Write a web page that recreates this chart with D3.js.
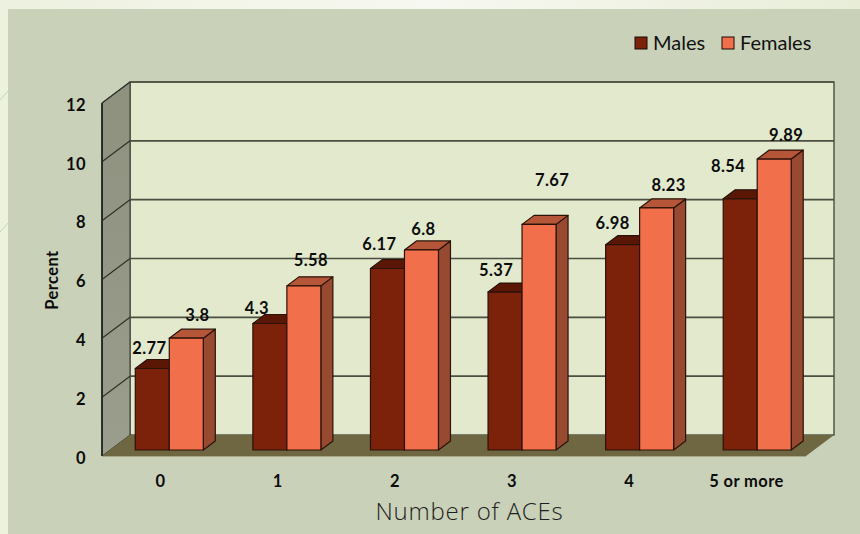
<!DOCTYPE html>
<html>

<head>
	<meta charset="utf-8">
	<title>ACEs</title>
	<script src="https://d3js.org/d3.v7.min.js"></script>
	<style>
		body {
			overflow: hidden;
			margin: 0;
			padding: 0;
			background: #eef1e0;
		}

		svg {
			display: block;
			font-family: Lato, sans-serif;
		}

		.tick text,
		.lab {
			font-size: 16.5px;
			font-weight: 700;
			letter-spacing: 0.4px;
			fill: #0c0c0c;
		}
	</style>
</head>

<body>
	<script>
		var categories = ["0", "1", "2", "3", "4", "5 or more"];
		var males = [2.77, 4.3, 6.17, 5.37, 6.98, 8.54];
		var females = [3.8, 5.58, 6.8, 7.67, 8.23, 9.89];
		var yTicks = [0, 2, 4, 6, 8, 10, 12];
		var seriesNames = ["Males", "Females"];

		var width = 860,
			height = 534;

		// fake 3d: floor/wall depth and the bar depth
		var depth = { x: 28, y: -21 },
			barDepth = { x: 12, y: -9 },
			barInset = { x: 8, y: -6 };

		var y = d3.scaleLinear().domain([0, 12]).range([456, 103]);
		var x0 = d3.scaleBand().domain(categories).range([110.5, 816]);
		var x1 = d3.scaleBand().domain(seriesNames).range([-34, 34]);
		var left = 102,
			right = 806;

		var cols = {
			Males: { front: "#7d220a", top: "#5a1706", side: "#5a1706" },
			Females: { front: "#f26f4b", top: "#b55639", side: "#984a31" }
		};

		var svg = d3.select("body").append("svg")
			.attr("width", width)
			.attr("height", height);

		var pts = (a) => a.map((p) => p.join(",")).join(" ");

		// page behind the panel
		var grad = svg.append("linearGradient").attr("id", "strip");
		grad.append("stop").attr("offset", "0").attr("stop-color", "#edf1df");
		grad.append("stop").attr("offset", "0.5").attr("stop-color", "#f7f8f1");
		grad.append("stop").attr("offset", "1").attr("stop-color", "#e8edd8");
		svg.append("rect").attr("width", width).attr("height", height).attr("fill", "url(#strip)");
		svg.append("path").attr("d", "M0,100L8,91M0,232L8,223").attr("stroke", "#c9d1b8").attr("fill", "none");
		svg.append("rect").attr("x", 8).attr("y", 9).attr("width", width - 8).attr("height", height - 9)
			.attr("fill", "#c9d1b8");

		// wall gradient, a bit lighter in the lower part
		var wg = svg.append("linearGradient").attr("id", "wall").attr("x1", 0).attr("y1", 0).attr("x2", 0).attr("y2", 1);
		wg.append("stop").attr("offset", "0").attr("stop-color", "#8e917e");
		wg.append("stop").attr("offset", "1").attr("stop-color", "#9b9d8d");

		// back wall
		svg.append("rect")
			.attr("x", left + depth.x).attr("y", y(12) + depth.y)
			.attr("width", right - left).attr("height", y(0) - y(12))
			.attr("fill", "#e2e9cd").attr("stroke", "#33362c").attr("stroke-width", 1.2);

		// left wall
		svg.append("polygon")
			.attr("points", pts([[left, y(12)], [left + depth.x, y(12) + depth.y], [left + depth.x, y(0) + depth.y], [left, y(0)]]))
			.attr("fill", "url(#wall)").attr("stroke", "#33362c").attr("stroke-width", 1);
		svg.append("line").attr("x1", left).attr("x2", left).attr("y1", y(12)).attr("y2", y(0))
			.attr("stroke", "#111").attr("stroke-width", 1.4);

		// floor
		svg.append("polygon")
			.attr("points", pts([[left, y(0)], [left + depth.x, y(0) + depth.y], [right + depth.x, y(0) + depth.y], [right, y(0)]]))
			.attr("fill", "#6f6741");
		svg.append("line").attr("x1", left).attr("x2", right).attr("y1", y(0) + 0.5).attr("y2", y(0) + 0.5)
			.attr("stroke", "#a8a888").attr("stroke-width", 1);

		// grid lines
		var grid = svg.append("g").selectAll("g").data(yTicks.filter((d) => d > 0)).enter().append("g");
		grid.append("line")
			.attr("x1", left + depth.x).attr("x2", right + depth.x)
			.attr("y1", (d) => y(d) + depth.y).attr("y2", (d) => y(d) + depth.y)
			.attr("stroke", "#4b4f41").attr("stroke-width", (d) => d == 12 ? 1.4 : 1.6);
		grid.append("line")
			.attr("x1", left).attr("x2", left + depth.x)
			.attr("y1", (d) => y(d)).attr("y2", (d) => y(d) + depth.y)
			.attr("stroke", "#2e3027").attr("stroke-width", 1.2);

		// axes, labels only
		var yAxis = svg.append("g").attr("transform", "translate(" + (left - 16) + ",2)")
			.call(d3.axisLeft(y).tickValues(yTicks).tickSize(0).tickPadding(0));
		var xAxis = svg.append("g").attr("transform", "translate(0,456)")
			.call(d3.axisBottom(d3.scaleBand().domain(categories).range([102, 805])).tickSize(0).tickPadding(19));
		yAxis.select(".domain").remove();
		xAxis.select(".domain").remove();
		svg.selectAll(".tick text").style("font-family", "Lato, sans-serif");

		// bars
		var rows = [];
		categories.forEach((c, i) => {
			rows.push({ cat: c, s: "Males", v: males[i] });
			rows.push({ cat: c, s: "Females", v: females[i] });
		});
		// females after males so they overlap the male side face
		var bar = svg.append("g").selectAll("g").data(rows).enter().append("g");
		var bx = (d) => x0(d.cat) + x0.bandwidth() / 2 + x1(d.s);
		var bw = x1.bandwidth();
		var base = y(0) + barInset.y;
		var top_ = (d) => y(d.v) + barInset.y;

		bar.append("polygon").attr("class", "side")
			.attr("points", (d) => pts([[bx(d) + bw, top_(d)], [bx(d) + bw + barDepth.x, top_(d) + barDepth.y],
				[bx(d) + bw + barDepth.x, base + barDepth.y], [bx(d) + bw, base]]))
			.attr("fill", (d) => cols[d.s].side);
		bar.append("polygon").attr("class", "top")
			.attr("points", (d) => pts([[bx(d), top_(d)], [bx(d) + barDepth.x, top_(d) + barDepth.y],
				[bx(d) + bw + barDepth.x, top_(d) + barDepth.y], [bx(d) + bw, top_(d)]]))
			.attr("fill", (d) => cols[d.s].top);
		bar.append("rect")
			.attr("x", bx).attr("y", top_)
			.attr("width", bw).attr("height", (d) => base - top_(d))
			.attr("fill", (d) => cols[d.s].front);
		bar.selectAll("polygon,rect")
			.attr("stroke", "#2a1209").attr("stroke-width", 1.2).attr("stroke-linejoin", "round");

		// value labels were moved by hand in the original, so nudge them the same way
		var nudge = {
			Males: [[-3, -20], [-13, -15], [-8, -23], [-9, -21], [-10, -21], [-12, -32]],
			Females: [[11, -22], [7, -25], [2, -20], [13, -43], [12, -22], [12, -23]]
		};
		svg.append("g").selectAll("text").data(rows).enter().append("text")
			.attr("class", "lab")
			.attr("text-anchor", "middle")
			.attr("x", (d) => bx(d) + bw / 2 + nudge[d.s][categories.indexOf(d.cat)][0])
			.attr("y", (d) => top_(d) + nudge[d.s][categories.indexOf(d.cat)][1] + 5)
			.text((d) => d.v);

		// axis titles
		svg.append("text").attr("class", "lab")
			.attr("transform", "translate(52,280) rotate(-90)")
			.attr("text-anchor", "middle").attr("dy", "0.35em")
			.text("Percent");
		svg.append("text")
			.attr("x", 469.5).attr("y", 520).attr("text-anchor", "middle")
			.style("font-family", "'Open Sans', sans-serif").style("font-weight", 300)
			.style("font-size", "24px").style("letter-spacing", "0.8px").style("fill", "#1f1f1f")
			.text("Number of ACEs");

		// legend
		var legendX = d3.scaleOrdinal().domain(seriesNames).range([635, 722]);
		var leg = svg.append("g").selectAll("g").data(seriesNames).enter().append("g")
			.attr("transform", (d) => "translate(" + legendX(d) + ",37)");
		leg.append("rect").attr("width", 12).attr("height", 12)
			.attr("fill", (d) => cols[d].front).attr("stroke", "#1a0b05");
		leg.append("text").attr("x", 18).attr("y", 13)
			.style("font-size", "20px").style("fill", "#111").text((d) => d);
	</script>
</body>

</html>
